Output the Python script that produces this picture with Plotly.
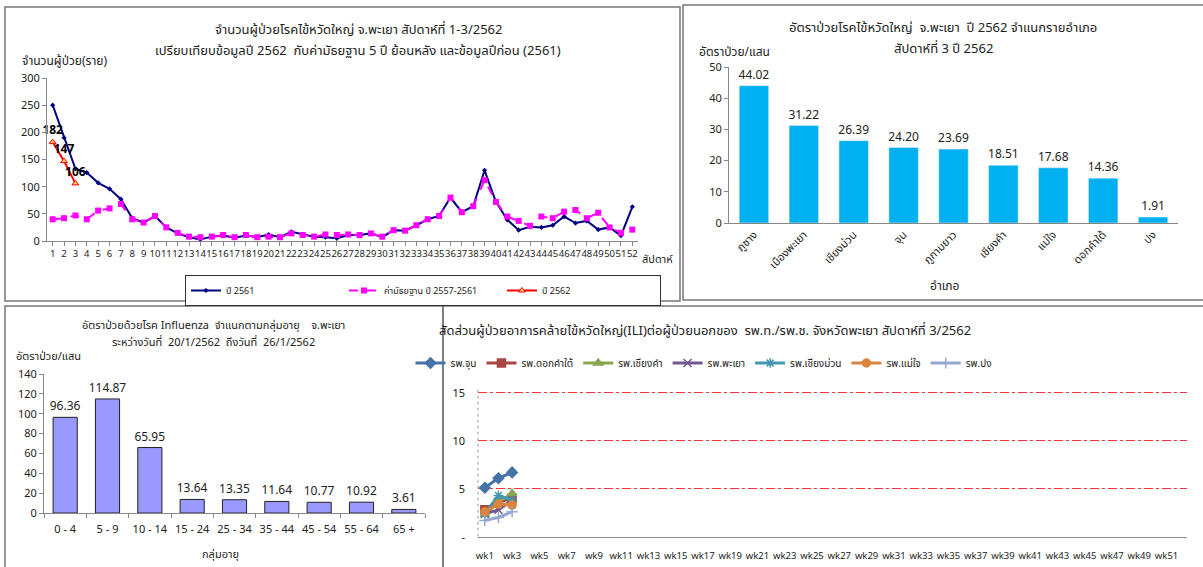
import plotly.graph_objects as go

W, H = 1203, 567
FONT = "Tahoma, 'Noto Sans', 'Noto Sans Thai', sans-serif"

# ---------- Panel 1: weekly cases ----------
weeks = list(range(1, 53))
cases_2561 = [250, 190, 133, 126, 107, 96, 77, 42, 34, 46, 25, 14, 7, 3, 8, 10, 6, 10, 7, 12,
              7, 17, 12, 8, 7, 5, 11, 11, 14, 7, 20, 19, 29, 40, 46, 80, 53, 64, 130, 72,
              39, 20, 26, 25, 29, 45, 33, 37, 21, 25, 10, 63]
median_5y = [40, 42, 47, 40, 56, 60, 68, 40, 34, 46, 25, 15, 8, 7, 8, 11, 7, 11, 7, 8,
             7, 14, 11, 8, 12, 11, 12, 11, 14, 8, 20, 19, 29, 40, 46, 80, 53, 64, 112, 72,
             45, 37, 28, 45, 42, 54, 57, 42, 52, 25, 15, 21]
weeks_2562 = [1, 2, 3]
cases_2562 = [182, 147, 106]

# ---------- Panel 2: rate by district ----------
districts = ["ภูซาง", "เมืองพะเยา", "เชียงม่วน", "จุน", "ภูกามยาว", "เชียงคำ", "แม่ใจ", "ดอกคำใต้", "ปง"]
district_rate = [44.02, 31.22, 26.39, 24.20, 23.69, 18.51, 17.68, 14.36, 1.91]

# ---------- Panel 3: rate by age group ----------
age_groups = ["0 - 4", "5 - 9", "10 - 14", "15 - 24", "25 - 34", "35 - 44", "45 - 54", "55 - 64", "65 +"]
age_rate = [96.36, 114.87, 65.95, 13.64, 13.35, 11.64, 10.77, 10.92, 3.61]

# ---------- Panel 4: ILI proportion by hospital ----------
wk_labels = ["wk%d" % i for i in range(1, 53)]
wk_tick_labels = ["wk%d" % i for i in range(1, 53, 2)]
hosp_weeks = ["wk1", "wk2", "wk3"]
hospitals = ["รพ.จุน", "รพ.ดอกคำใต้", "รพ.เชียงคำ", "รพ.พะเยา", "รพ.เชียงม่วน", "รพ.แม่ใจ", "รพ.ปง"]
ili_chun = [5.1, 6.1, 6.7]
ili_dokkhamtai = [2.8, 3.6, 4.0]
ili_chiangkham = [2.3, 3.6, 4.5]
ili_phayao = [2.4, 2.8, 3.8]
ili_chiangmuan = [2.4, 4.3, 3.8]
ili_maechai = [2.6, 3.4, 3.3]
ili_pong = [1.7, 2.0, 2.6]
hosp_values = [ili_chun, ili_dokkhamtai, ili_chiangkham, ili_phayao, ili_chiangmuan, ili_maechai, ili_pong]
hosp_colors = ["#4572A7", "#AA4643", "#89A54E", "#71588F", "#4198AF", "#DB843D", "#93A9CF"]
hosp_symbols = ["diamond", "square", "triangle-up", "x-thin-open", "asterisk-open", "circle", "cross-thin-open"]


def px_x(p):
    return p / W


def px_y(p):
    return 1 - p / H


fig = go.Figure()

# Panel 1 traces
fig.add_trace(go.Scatter(x=weeks, y=cases_2561, name="ปี 2561", mode="lines+markers",
                         line=dict(color="#000080", width=2), marker=dict(symbol="diamond", size=4, color="#000080"),
                         xaxis="x", yaxis="y", legend="legend"))
fig.add_trace(go.Scatter(x=weeks, y=median_5y, name="ค่ามัธยฐาน ปี 2557-2561", mode="lines+markers",
                         line=dict(color="#FF00FF", width=2, dash="dash"), marker=dict(symbol="square", size=6, color="#FF00FF"),
                         xaxis="x", yaxis="y", legend="legend"))
fig.add_trace(go.Scatter(x=weeks_2562, y=cases_2562, name="ปี 2562", mode="lines+markers+text",
                         text=[str(v) for v in cases_2562], textposition="top center", cliponaxis=False,
                         textfont=dict(size=12, color="#000", family=FONT, weight="bold"),
                         line=dict(color="#FF0000", width=2),
                         marker=dict(symbol="triangle-up", size=6, color="#FFCC66", line=dict(color="#FF0000", width=1)),
                         xaxis="x", yaxis="y", legend="legend"))

# Panel 2
fig.add_trace(go.Bar(x=districts, y=district_rate, marker=dict(color="#00B0F0"), width=0.59,
                     texttemplate="%{y:.2f}", textposition="outside", cliponaxis=False, constraintext="none",
                     textfont=dict(size=12, color="#222"), showlegend=False,
                     xaxis="x2", yaxis="y2"))

# Panel 3
fig.add_trace(go.Bar(x=age_groups, y=age_rate, marker=dict(color="#9999FF", line=dict(color="#222", width=1)),
                     width=0.57, texttemplate="%{y:.2f}", textposition="outside", cliponaxis=False,
                     constraintext="none",
                     textfont=dict(size=12, color="#222"), showlegend=False,
                     xaxis="x3", yaxis="y3"))

# Panel 4
for name, vals, col, sym in zip(hospitals, hosp_values, hosp_colors, hosp_symbols):
    fig.add_trace(go.Scatter(x=hosp_weeks, y=vals, name=name, mode="lines+markers",
                             line=dict(color=col, width=3),
                             marker=dict(symbol=sym, size=8, color=col, line=dict(color=col, width=1.5)),
                             xaxis="x4", yaxis="y4", legend="legend2"))

axis_common = dict(showgrid=False, zeroline=False, linecolor="#888", showline=True, automargin=False)


def tf(size):
    return dict(size=size, color="#222", family=FONT)


fig.update_layout(
    width=W, height=H, autosize=False,
    margin=dict(l=0, r=0, t=0, b=0),
    paper_bgcolor="white", plot_bgcolor="white",
    font=dict(family=FONT, color="#222"),
    xaxis=dict(domain=[px_x(47), px_x(638)], range=[0.5, 52.5], tickmode="array", tickvals=weeks,
               tickangle=0, tickfont=tf(9.5),
               ticks="outside", ticklen=4, tickcolor="#888", anchor="y", **axis_common),
    yaxis=dict(domain=[px_y(241), px_y(78)], range=[0, 300], dtick=50, ticks="outside", ticklen=4,
               tickfont=tf(11), tickcolor="#888", anchor="x", **axis_common),
    xaxis2=dict(domain=[px_x(729), px_x(1178)], tickangle=-45, ticks="", tickfont=tf(11),
                anchor="y2", **axis_common),
    yaxis2=dict(domain=[px_y(223), px_y(67)], range=[0, 50], dtick=10, ticks="outside", ticklen=4,
                tickfont=tf(11), tickcolor="#888", anchor="x2", **axis_common),
    xaxis3=dict(domain=[px_x(44), px_x(425)], ticks="outside", tickson="boundaries", ticklen=4,
                tickangle=0, tickfont=tf(11), tickcolor="#888", anchor="y3", ticklabelstandoff=6,
                **axis_common),
    yaxis3=dict(domain=[px_y(513), px_y(374)], range=[0, 140], dtick=20, ticks="outside", ticklen=4,
                tickfont=tf(11), tickcolor="#888", anchor="x3", **axis_common),
    xaxis4=dict(domain=[px_x(478), px_x(1187)], type="category", categoryorder="array", categoryarray=wk_labels,
                range=[-0.5, 51.5], tickmode="array", tickvals=wk_tick_labels, ticks="", tickangle=0,
                tickfont=tf(9.5), ticklabelstandoff=10, anchor="y4", **axis_common),
    yaxis4=dict(domain=[px_y(536.7), px_y(387.9)], range=[0, 15.5], tickmode="array", tickvals=[0, 5, 10, 15],
                ticktext=["-", "5", "10", "15"], anchor="x4", showgrid=True, gridcolor="#FF3333",
                griddash="dashdot", gridwidth=1, zeroline=False, showline=False, automargin=False,
                ticklabelstandoff=12, tickfont=tf(11)),
    legend=dict(orientation="h", x=px_x(185), y=px_y(275), xanchor="left", yanchor="top",
                bordercolor="#333", borderwidth=1, entrywidth=113, font=dict(size=9, family=FONT),
                bgcolor="white", tracegroupgap=0),
    legend2=dict(orientation="h", x=px_x(704), y=px_y(363), xanchor="center", yanchor="middle",
                 itemwidth=30, font=dict(size=10, family=FONT), bgcolor="rgba(0,0,0,0)"),
    bargap=0.4,
)

# Panel borders
borders = [(5, 7, 680, 301), (683, 5, 1205, 300), (5, 306, 443, 570), (443, 306, 1205, 570)]
shapes = []
for x0, y0, x1, y1 in borders:
    shapes.append(dict(type="rect", xref="paper", yref="paper", x0=px_x(x0), x1=px_x(x1),
                       y0=px_y(y1), y1=px_y(y0), line=dict(color="#777", width=1.5), fillcolor="rgba(0,0,0,0)",
                       layer="below"))
# dotted y axis line for panel 4
shapes.append(dict(type="line", xref="x4 domain", yref="y4", x0=0, x1=0, y0=0, y1=15.5,
                   line=dict(color="#999", width=1, dash="dot")))
fig.update_layout(shapes=shapes)

ann = []


def add_text(x, y, text, size, xanchor="center"):
    ann.append(dict(x=px_x(x), y=px_y(y), xref="paper", yref="paper", text=text, showarrow=False,
                    xanchor=xanchor, yanchor="middle", font=tf(size)))


# Panel 1 texts
add_text(358, 29, "จำนวนผู้ป่วยโรคไข้หวัดใหญ่ จ.พะเยา สัปดาห์ที่ 1-3/2562", 13)
add_text(358, 50, "เปรียบเทียบข้อมูลปี 2562  กับค่ามัธยฐาน 5 ปี ย้อนหลัง และข้อมูลปีก่อน (2561)", 13)
add_text(20, 61, "จำนวนผู้ป่วย(ราย)", 12, xanchor="left")
add_text(640, 258, "สัปดาห์", 11, xanchor="left")
# Panel 2 texts
add_text(943, 27, "อัตราป่วยโรคไข้หวัดใหญ่  จ.พะเยา  ปี 2562 จำแนกรายอำเภอ", 13)
add_text(943, 48, "สัปดาห์ที่ 3 ปี 2562", 13)
add_text(697, 51, "อัตราป่วย/แสน", 12, xanchor="left")
add_text(945, 285, "อำเภอ", 12)
# Panel 3 texts
add_text(213, 324, "อัตราป่วยด้วยโรค Influenza  จำแนกตามกลุ่มอายุ    จ.พะเยา", 11)
add_text(213, 341, "ระหว่างวันที่  20/1/2562  ถึงวันที่  26/1/2562", 11)
add_text(14, 355, "อัตราป่วย/แสน", 11, xanchor="left")
add_text(220, 553, "กลุ่มอายุ", 11)
# Panel 4 texts
add_text(705, 330, "สัดส่วนผู้ป่วยอาการคล้ายไข้หวัดใหญ่(ILI)ต่อผู้ป่วยนอกของ  รพ.ท./รพ.ช. จังหวัดพะเยา สัปดาห์ที่ 3/2562", 13)

fig.update_layout(annotations=ann)

fig.write_html("out.html", config={"displayModeBar": False},
               post_script="document.body.style.margin='0';document.body.style.overflow='hidden';")
